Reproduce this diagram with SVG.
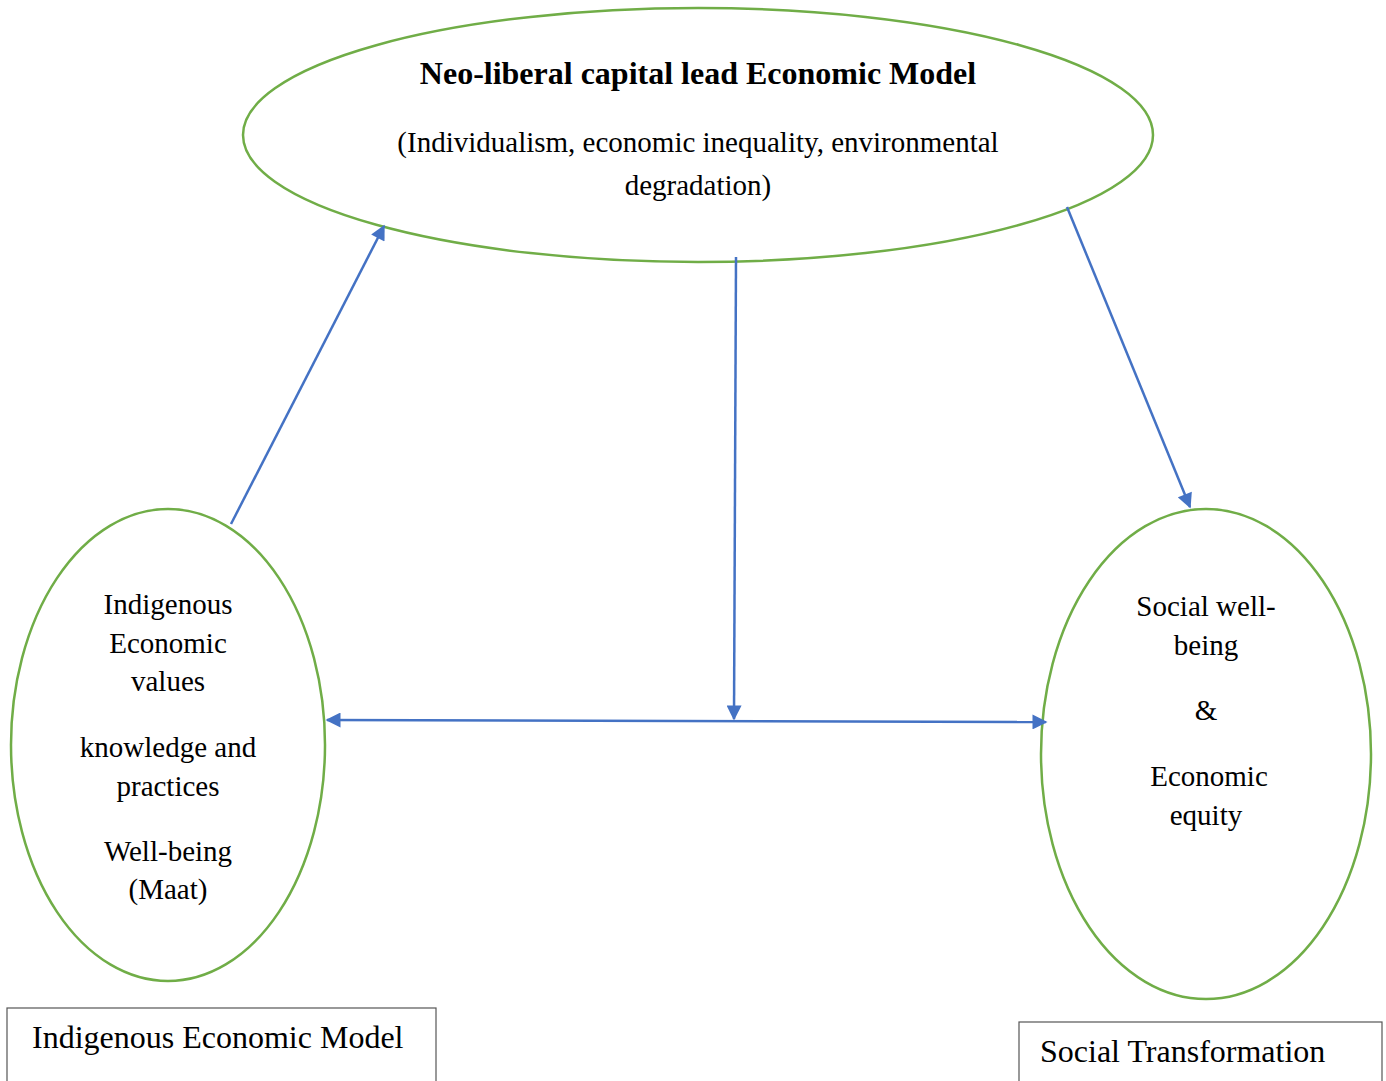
<svg xmlns="http://www.w3.org/2000/svg" width="1386" height="1081" viewBox="0 0 1386 1081">
<style>
.ell{fill:none;stroke:#70AD47;stroke-width:2.5}
.con{fill:none;stroke:#4472C4;stroke-width:2.5}
.box{fill:#fff;stroke:#555;stroke-width:1.2}
text{font-family:"Liberation Serif","Times New Roman",serif;fill:#000;text-anchor:middle}
.t{font-size:29px}
.b{font-size:32px;font-weight:bold}
.l{font-size:32px;text-anchor:start}
</style>
<defs>
<marker id="ah" viewBox="0 0 10 10" refX="9" refY="5" markerWidth="6.5" markerHeight="6" orient="auto-start-reverse" markerUnits="strokeWidth">
<path d="M0,0 L10,5 L0,10 z" fill="#4472C4"/>
</marker>
</defs>
<g id="neoliberal">
<ellipse class="ell" cx="698" cy="135" rx="455" ry="127"/>
<text class="b" x="698" y="84">Neo-liberal capital lead Economic Model</text>
<text class="t" x="698" y="152">(Individualism, economic inequality, environmental</text>
<text class="t" x="698" y="195">degradation)</text>
</g>
<g id="indigenous">
<ellipse class="ell" cx="168" cy="745" rx="157" ry="236"/>
<text class="t" x="168" y="614">Indigenous</text>
<text class="t" x="168" y="653">Economic</text>
<text class="t" x="168" y="691">values</text>
<text class="t" x="168" y="757">knowledge and</text>
<text class="t" x="168" y="796">practices</text>
<text class="t" x="168" y="861">Well-being</text>
<text class="t" x="168" y="899">(Maat)</text>
</g>
<g id="social">
<ellipse class="ell" cx="1206" cy="754" rx="165" ry="245"/>
<text class="t" x="1206" y="616">Social well-</text>
<text class="t" x="1206" y="655">being</text>
<text class="t" x="1206" y="720">&amp;</text>
<text class="t" x="1209" y="786">Economic</text>
<text class="t" x="1206" y="825">equity</text>
</g>
<g id="label-indigenous">
<rect class="box" x="7" y="1008" width="429" height="80"/>
<text class="l" x="32" y="1048">Indigenous Economic Model</text>
</g>
<g id="label-social">
<rect class="box" x="1019" y="1022" width="363" height="70"/>
<text class="l" x="1040" y="1062">Social Transformation</text>
</g>
<g id="connectors">
<line class="con" x1="231" y1="524" x2="384" y2="226" marker-end="url(#ah)"/>
<line class="con" x1="736" y1="257" x2="734" y2="719" marker-end="url(#ah)"/>
<line class="con" x1="1067" y1="207" x2="1190" y2="507" marker-end="url(#ah)"/>
<line class="con" x1="327" y1="720" x2="1046" y2="722" marker-start="url(#ah)" marker-end="url(#ah)"/>
</g>
</svg>
